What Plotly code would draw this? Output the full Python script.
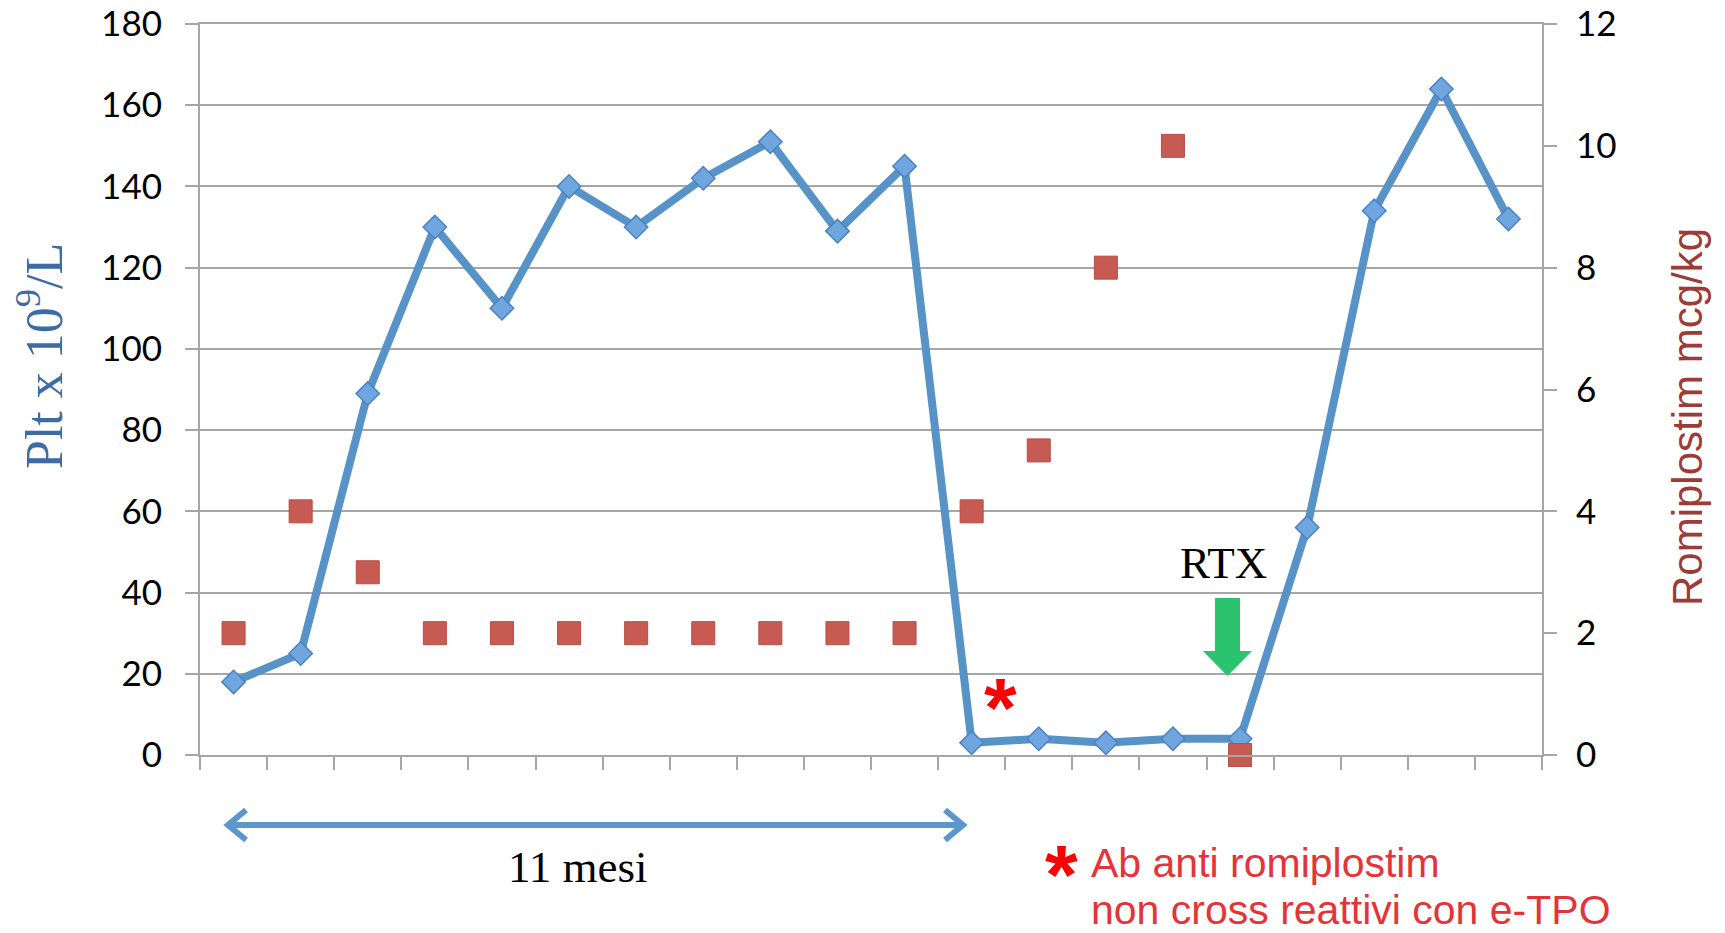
import plotly.graph_objects as go

# ---- data ----
visits = list(range(1, 21))
plt_counts = [18, 25, 89, 130, 110, 140, 130, 142, 151, 129, 145,
              3, 4, 3, 4, 4, 56, 134, 164, 132]
romiplostim = [2, 4, 3, 2, 2, 2, 2, 2, 2, 2, 2, 4, 5, 8, 10, 0,
               None, None, None, None]
left_ticks = list(range(0, 181, 20))
right_ticks = list(range(0, 13, 2))
boundaries = [v - 0.5 for v in visits] + [visits[-1] + 0.5]

W, H = 1725, 933
PL, PR, PT, PB = 200, 1542, 24, 755


def fx(p):
    return (p - PL) / (PR - PL)


def fy(p):
    return (PB - p) / (PB - PT)


GRID = "#a6a6a6"
BLUE = "#5893c8"
RED_SQ = "#c75a52"
TICKFONT = dict(family="Lato, 'Open Sans', sans-serif", size=35, color="#000000")

fig = go.Figure()
fig.add_trace(go.Scatter(
    x=visits, y=plt_counts, mode="lines+markers",
    line=dict(color=BLUE, width=8),
    marker=dict(symbol="diamond", size=18, color="#70a6e0",
                line=dict(color="#4a82c0", width=1.5)),
    cliponaxis=False, showlegend=False, yaxis="y",
))
fig.add_trace(go.Scatter(
    x=visits, y=romiplostim, mode="markers",
    marker=dict(symbol="square", size=23, color=RED_SQ,
                line=dict(color="#b84c45", width=1)),
    cliponaxis=False, showlegend=False, yaxis="y2",
))

fig.update_layout(
    width=W, height=H,
    margin=dict(l=PL, r=W - PR, t=PT, b=H - PB, autoexpand=False),
    paper_bgcolor="white", plot_bgcolor="white",
    xaxis=dict(range=[0.5, 20.5], tickvals=boundaries, showticklabels=False,
               ticks="outside", ticklen=13, tickwidth=2, tickcolor=GRID,
               showgrid=False, zeroline=False, showline=True, mirror=True,
               linecolor=GRID, linewidth=2, automargin=False),
    yaxis=dict(range=[0, 180], tickvals=left_ticks, ticks="outside",
               ticklen=13, tickwidth=2, tickcolor=GRID, showgrid=True,
               gridcolor=GRID, gridwidth=2, zeroline=False, showline=True,
               linecolor=GRID, linewidth=2, tickfont=TICKFONT,
               ticklabelstandoff=16, ticklabeloverflow="allow",
               automargin=False),
    yaxis2=dict(range=[0, 12], tickvals=right_ticks, overlaying="y",
                side="right", ticks="outside", ticklen=13, tickwidth=2,
                tickcolor=GRID, showgrid=False, zeroline=False,
                showline=True, linecolor=GRID, linewidth=2,
                tickfont=TICKFONT, ticklabelstandoff=12,
                ticklabeloverflow="allow", automargin=False),
)

annotations = [
    dict(text="Plt x 10<sup>9</sup>/L", x=fx(40), y=fy(356), textangle=-90,
         font=dict(family="'Liberation Serif', 'Times New Roman', serif",
                   size=52, color="#3c6ba6")),
    dict(text="Romiplostim mcg/kg", x=fx(1688), y=fy(417), textangle=-90,
         font=dict(family="'Liberation Sans', Arial, sans-serif",
                   size=42, color="#9c3b37")),
    dict(text="RTX", x=fx(1223), y=fy(563),
         font=dict(family="'Liberation Serif', 'Times New Roman', serif",
                   size=45, color="#000000")),
    dict(text="11 mesi", x=fx(578), y=fy(867),
         font=dict(family="'Liberation Serif', 'Times New Roman', serif",
                   size=45, color="#000000")),
    dict(text="<b>*</b>", x=fx(1000), y=fy(708),
         font=dict(family="'Liberation Sans', Arial, sans-serif",
                   size=84, color="#ff0000")),
    dict(text="<b>*</b>", x=fx(1061), y=fy(875),
         font=dict(family="'Liberation Sans', Arial, sans-serif",
                   size=84, color="#ff0000")),
    dict(text="Ab anti romiplostim", x=fx(1089), y=fy(863), xanchor="left",
         font=dict(family="'Liberation Sans', Arial, sans-serif",
                   size=41, color="#e5333a")),
    dict(text="non cross reattivi con e-TPO", x=fx(1089), y=fy(910),
         xanchor="left",
         font=dict(family="'Liberation Sans', Arial, sans-serif",
                   size=41, color="#e5333a")),
]
for a in annotations:
    a.update(xref="paper", yref="paper", showarrow=False)
    a.setdefault("xanchor", "center")
    a.setdefault("yanchor", "middle")
fig.update_layout(annotations=annotations)

# green block arrow (RTX)
gx = [1215, 1240, 1240, 1252, 1227.5, 1203, 1215]
gy = [598, 598, 651, 651, 676, 651, 651]
gpath = "M " + " L ".join(f"{fx(a):.5f},{fy(b):.5f}" for a, b in zip(gx, gy)) + " Z"
shapes = [dict(type="path", path=gpath, xref="paper", yref="paper",
               fillcolor="#2cc36e", line=dict(width=0))]

# double-headed arrow (11 mesi)
AY = 825
x0, x1 = 228, 963
ah, av = 18, 15
line_style = dict(color="#5b96cd", width=6)
shapes.append(dict(type="line", xref="paper", yref="paper",
                   x0=fx(x0), y0=fy(AY), x1=fx(x1), y1=fy(AY), line=line_style))
left_head = f"M {fx(x0+ah):.5f},{fy(AY-av):.5f} L {fx(x0):.5f},{fy(AY):.5f} L {fx(x0+ah):.5f},{fy(AY+av):.5f}"
right_head = f"M {fx(x1-ah):.5f},{fy(AY-av):.5f} L {fx(x1):.5f},{fy(AY):.5f} L {fx(x1-ah):.5f},{fy(AY+av):.5f}"
for p in (left_head, right_head):
    shapes.append(dict(type="path", path=p, xref="paper", yref="paper",
                       line=line_style))
fig.update_layout(shapes=shapes)

fig.write_html("out.html")
